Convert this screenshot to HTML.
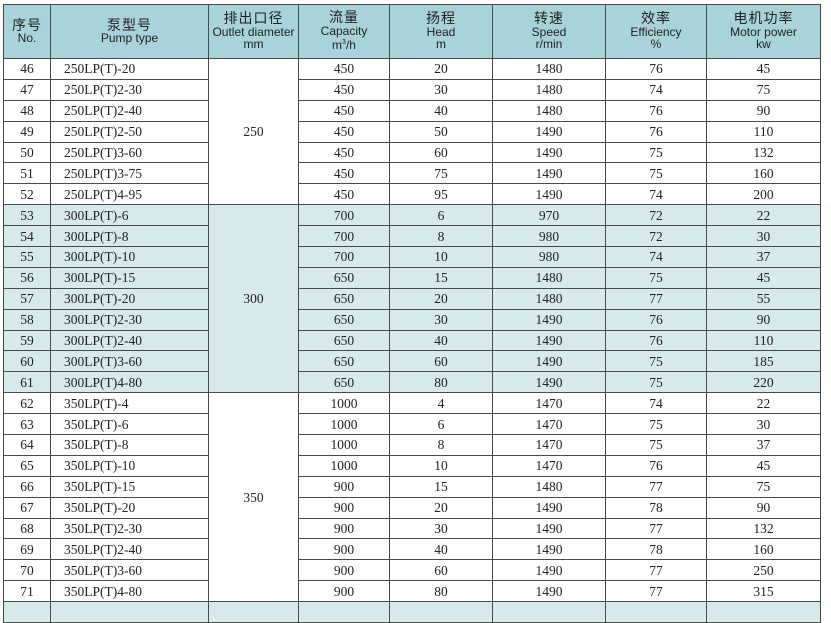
<!DOCTYPE html>
<html><head><meta charset="utf-8"><style>
body{margin:0;background:#fff;width:831px;height:604px;overflow:hidden}
table{position:absolute;left:3px;top:4px;border-collapse:collapse;table-layout:fixed;width:817px}
td{border:1px solid #4a4a4a;padding:0;text-align:center;font-family:"Liberation Serif",serif;font-size:13.5px;color:#222;height:19.9px;line-height:19px;overflow:hidden;white-space:nowrap}
th{border:1px solid #4a4a4a;background:#a8d3db;font-family:"Liberation Sans","Noto Sans CJK SC",sans-serif;font-weight:normal;font-size:12px;line-height:12.5px;color:#222;height:53px;padding:0}
th .c{font-size:14px;letter-spacing:1px}
td.t{text-align:left;padding-left:13px}
tr.g td{background:#d6eaec}
td.m{background:#fff}
tr.g td.m{background:#d6eaec}
</style></head><body>
<table>
<colgroup><col style="width:47px"><col style="width:158px"><col style="width:90px"><col style="width:91px"><col style="width:103px"><col style="width:113px"><col style="width:101px"><col style="width:114px"></colgroup>
<tr><th><span class="c">序号</span><br>No.</th><th><span class="c">泵型号</span><br>Pump type</th><th><span class="c">排出口径</span><br>Outlet diameter<br>mm</th><th><span class="c">流量</span><br>Capacity<br>m<sup style="font-size:7px">3</sup>/h</th><th><span class="c">扬程</span><br>Head<br>m</th><th><span class="c">转速</span><br>Speed<br>r/min</th><th><span class="c">效率</span><br>Efficiency<br>%</th><th><span class="c">电机功率</span><br>Motor power<br>kw</th></tr>
<tr><td>46</td><td class="t">250LP(T)-20</td><td class="m" rowspan="7">250</td><td>450</td><td>20</td><td>1480</td><td>76</td><td>45</td></tr>
<tr><td>47</td><td class="t">250LP(T)2-30</td><td>450</td><td>30</td><td>1480</td><td>74</td><td>75</td></tr>
<tr><td>48</td><td class="t">250LP(T)2-40</td><td>450</td><td>40</td><td>1480</td><td>76</td><td>90</td></tr>
<tr><td>49</td><td class="t">250LP(T)2-50</td><td>450</td><td>50</td><td>1490</td><td>76</td><td>110</td></tr>
<tr><td>50</td><td class="t">250LP(T)3-60</td><td>450</td><td>60</td><td>1490</td><td>75</td><td>132</td></tr>
<tr><td>51</td><td class="t">250LP(T)3-75</td><td>450</td><td>75</td><td>1490</td><td>75</td><td>160</td></tr>
<tr><td>52</td><td class="t">250LP(T)4-95</td><td>450</td><td>95</td><td>1490</td><td>74</td><td>200</td></tr>
<tr class="g"><td>53</td><td class="t">300LP(T)-6</td><td class="m" rowspan="9">300</td><td>700</td><td>6</td><td>970</td><td>72</td><td>22</td></tr>
<tr class="g"><td>54</td><td class="t">300LP(T)-8</td><td>700</td><td>8</td><td>980</td><td>72</td><td>30</td></tr>
<tr class="g"><td>55</td><td class="t">300LP(T)-10</td><td>700</td><td>10</td><td>980</td><td>74</td><td>37</td></tr>
<tr class="g"><td>56</td><td class="t">300LP(T)-15</td><td>650</td><td>15</td><td>1480</td><td>75</td><td>45</td></tr>
<tr class="g"><td>57</td><td class="t">300LP(T)-20</td><td>650</td><td>20</td><td>1480</td><td>77</td><td>55</td></tr>
<tr class="g"><td>58</td><td class="t">300LP(T)2-30</td><td>650</td><td>30</td><td>1490</td><td>76</td><td>90</td></tr>
<tr class="g"><td>59</td><td class="t">300LP(T)2-40</td><td>650</td><td>40</td><td>1490</td><td>76</td><td>110</td></tr>
<tr class="g"><td>60</td><td class="t">300LP(T)3-60</td><td>650</td><td>60</td><td>1490</td><td>75</td><td>185</td></tr>
<tr class="g"><td>61</td><td class="t">300LP(T)4-80</td><td>650</td><td>80</td><td>1490</td><td>75</td><td>220</td></tr>
<tr><td>62</td><td class="t">350LP(T)-4</td><td class="m" rowspan="10">350</td><td>1000</td><td>4</td><td>1470</td><td>74</td><td>22</td></tr>
<tr><td>63</td><td class="t">350LP(T)-6</td><td>1000</td><td>6</td><td>1470</td><td>75</td><td>30</td></tr>
<tr><td>64</td><td class="t">350LP(T)-8</td><td>1000</td><td>8</td><td>1470</td><td>75</td><td>37</td></tr>
<tr><td>65</td><td class="t">350LP(T)-10</td><td>1000</td><td>10</td><td>1470</td><td>76</td><td>45</td></tr>
<tr><td>66</td><td class="t">350LP(T)-15</td><td>900</td><td>15</td><td>1480</td><td>77</td><td>75</td></tr>
<tr><td>67</td><td class="t">350LP(T)-20</td><td>900</td><td>20</td><td>1490</td><td>78</td><td>90</td></tr>
<tr><td>68</td><td class="t">350LP(T)2-30</td><td>900</td><td>30</td><td>1490</td><td>77</td><td>132</td></tr>
<tr><td>69</td><td class="t">350LP(T)2-40</td><td>900</td><td>40</td><td>1490</td><td>78</td><td>160</td></tr>
<tr><td>70</td><td class="t">350LP(T)3-60</td><td>900</td><td>60</td><td>1490</td><td>77</td><td>250</td></tr>
<tr><td>71</td><td class="t">350LP(T)4-80</td><td>900</td><td>80</td><td>1490</td><td>77</td><td>315</td></tr>
<tr class="g"><td>&nbsp;</td><td></td><td></td><td></td><td></td><td></td><td></td><td></td></tr>
</table>
</body></html>
